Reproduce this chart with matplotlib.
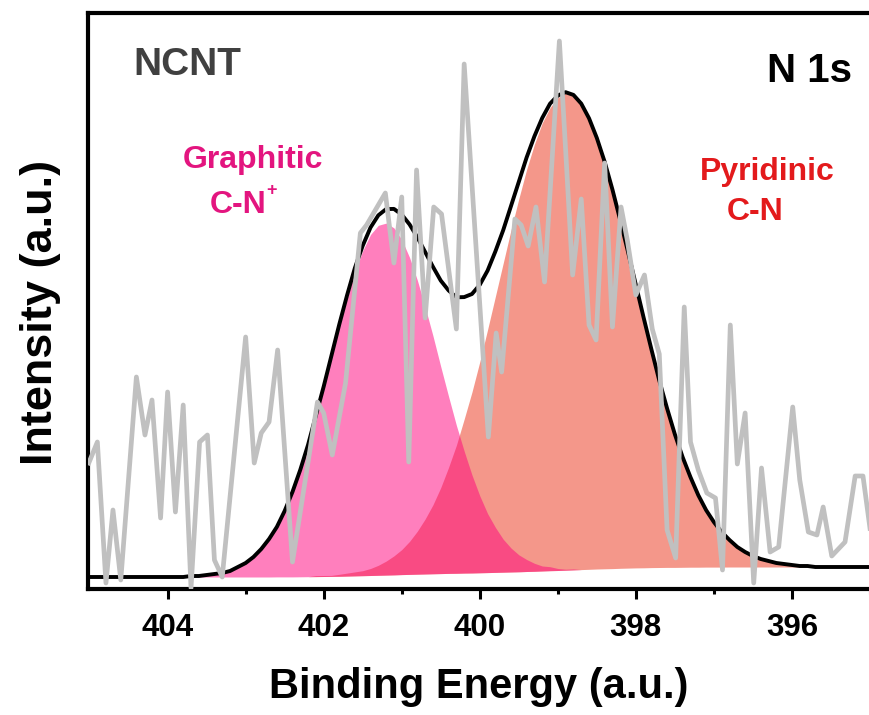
import numpy as np
import matplotlib
matplotlib.use("Agg")
from matplotlib import pyplot as plt

plt.rcParams['font.family'] = ['Liberation Sans', 'DejaVu Sans']
plt.rcParams['font.weight'] = 'bold'

# Raw N 1s spectrum (binding energy in eV, intensity in a.u.)
be_data = [405.01, 404.90, 404.79, 404.70, 404.60, 404.40, 404.29, 404.20, 404.09, 404.00,
           403.90, 403.80, 403.70, 403.59, 403.49, 403.40, 403.30, 403.00, 402.89, 402.80,
           402.70, 402.59, 402.40, 402.08, 402.00, 401.89, 401.72, 401.53, 401.45, 401.21,
           401.10, 401.00, 400.91, 400.81, 400.70, 400.59, 400.49, 400.30, 400.20, 399.89,
           399.79, 399.72, 399.55, 399.47, 399.38, 399.28, 399.17, 398.98, 398.90, 398.81,
           398.70, 398.60, 398.51, 398.40, 398.30, 398.19, 398.11, 398.00, 397.89, 397.79,
           397.70, 397.60, 397.49, 397.38, 397.30, 397.20, 397.09, 396.98, 396.89, 396.79,
           396.70, 396.60, 396.49, 396.39, 396.28, 396.17, 395.99, 395.90, 395.79, 395.68,
           395.60, 395.49, 395.32, 395.19, 395.09, 394.98]
int_data = [126, 147, 6, 79, 9, 212, 154, 189, 71, 197,
            77, 184, 1, 147, 154, 29, 12, 252, 126, 156,
            167, 239, 27, 187, 176, 134, 206, 356, 364, 396,
            326, 392, 127, 419, 271, 382, 375, 260, 525, 152,
            256, 217, 370, 364, 343, 382, 307, 548, 439, 314,
            390, 264, 249, 426, 262, 382, 349, 294, 314, 260,
            235, 59, 31, 282, 147, 119, 96, 91, 19, 264,
            125, 176, 6, 121, 37, 42, 182, 109, 57, 54,
            82, 33, 47, 113, 113, 49]

# Fit results on a 0.1 eV grid, 405.0 -> 395.0
be_fit = np.round(np.linspace(405.0, 395.0, 101), 1)
background = [12.0, 12.0, 12.0, 12.0, 12.0, 12.0, 12.0, 12.0, 12.0, 12.0,
              12.0, 12.0, 12.0, 12.0, 12.0, 12.0, 12.0, 12.0, 12.0, 12.0,
              12.0, 12.0, 12.0, 12.0, 12.1, 12.1, 12.1, 12.2, 12.3, 12.4,
              12.5, 12.6, 12.7, 12.9, 13.1, 13.3, 13.5, 13.7, 13.9, 14.1,
              14.4, 14.6, 14.8, 15.0, 15.2, 15.4, 15.6, 15.7, 15.9, 16.0,
              16.2, 16.4, 16.6, 16.8, 17.0, 17.2, 17.5, 17.7, 18.0, 18.3,
              18.5, 18.8, 19.1, 19.4, 19.7, 20.0, 20.2, 20.4, 20.7, 20.9,
              21.1, 21.2, 21.4, 21.5, 21.6, 21.6, 21.7, 21.8, 21.8, 21.9,
              21.9, 21.9, 22.0, 22.0, 22.0, 22.0, 22.0, 22.0, 22.0, 22.0,
              22.0, 22.0, 22.0, 22.0, 22.0, 22.0, 22.0, 22.0, 22.0, 22.0,
              22.0]
graphitic = [0, 0, 0, 0, 0, 0, 0, 0, 0, 0,
             0, 0, 0, 1, 1, 2, 3, 4, 6, 10,
             14, 20, 28, 38, 50, 66, 85, 107, 132, 160,
             189, 220, 250, 278, 304, 325, 341, 350, 352, 347,
             335, 317, 294, 267, 238, 207, 177, 148, 122, 98,
             77, 59, 45, 33, 24, 17, 12, 8, 5, 4,
             2, 1, 1, 0, 0, 0, 0, 0, 0, 0,
             0, 0, 0, 0, 0, 0, 0, 0, 0, 0,
             0, 0, 0, 0, 0, 0, 0, 0, 0, 0,
             0, 0, 0, 0, 0, 0, 0, 0, 0, 0,
             0]
pyridinic = [0, 0, 0, 0, 0, 0, 0, 0, 0, 0,
             0, 0, 0, 0, 0, 0, 0, 0, 0, 0,
             0, 0, 0, 0, 0, 0, 0, 0, 0, 1,
             1, 1, 2, 3, 4, 5, 7, 10, 14, 19,
             25, 33, 43, 55, 69, 86, 106, 128, 154, 181,
             211, 243, 276, 309, 342, 373, 402, 427, 448, 463,
             473, 477, 474, 466, 451, 431, 407, 379, 348, 316,
             283, 250, 218, 187, 159, 133, 110, 90, 72, 57,
             45, 35, 27, 20, 15, 11, 8, 6, 4, 3,
             2, 1, 1, 0, 0, 0, 0, 0, 0, 0,
             0]

xticks = [404, 402, 400, 398, 396]
xminor = [403, 401, 399, 397, 395]

bg = np.array(background)
g_top = bg + np.array(graphitic)
p_top = bg + np.array(pyridinic)
envelope = bg + np.array(graphitic) + np.array(pyridinic)

fig = plt.figure(figsize=(8.7, 7.15), dpi=100)
ax = fig.add_axes([88/870, 1 - 589/715, 1 - 88/870, 576/715])

# components
ax.fill_between(be_fit, bg, p_top, color='#F4978A', lw=0, zorder=1)
ax.fill_between(be_fit, bg, g_top, color='#FF007D', alpha=0.5, lw=0, zorder=2)
# fitted envelope and raw data
ax.plot(be_fit, envelope, color='black', lw=2.8, zorder=3)
ax.plot(be_data, int_data, color='#C0C0C0', lw=3.4, zorder=4)

ax.set_xlim(405.02, 395.05)
ax.set_ylim(0, 576)
ax.set_xticks(xticks)
ax.set_xticks(xminor, minor=True)
ax.set_xticklabels([str(t) for t in xticks])
ax.set_yticks([])
ax.tick_params(axis='x', which='major', length=7, width=2.2, direction='out',
               labelsize=22.5, pad=10)
ax.tick_params(axis='x', which='minor', length=3.6, width=2.2, direction='out')
for lab in ax.get_xticklabels():
    lab.set_fontweight('bold')

for side in ['left', 'top', 'bottom']:
    ax.spines[side].set_linewidth(3)
ax.spines['right'].set_visible(False)

ax.set_xlabel('Binding Energy (a.u.)', fontsize=30, fontweight='bold')
ax.xaxis.set_label_coords(0.5, -0.135)
fig.text(41/870, 1 - 312/715, 'Intensity (a.u.)', rotation=90, fontsize=32.5,
         fontweight='bold', ha='center', va='center')

# annotations
ax.text(0.0575, 0.892, 'NCNT', transform=ax.transAxes, fontsize=28,
        fontweight='bold', color='#404040', ha='left', va='baseline')
ax.text(0.977, 0.880, 'N 1s', transform=ax.transAxes, fontsize=29,
        fontweight='bold', color='black', ha='right', va='baseline')
ax.text(0.211, 0.731, 'Graphitic', transform=ax.transAxes, fontsize=23,
        fontweight='bold', color='#E3157F', ha='center', va='baseline')
ax.text(0.156, 0.653, 'C-N', transform=ax.transAxes, fontsize=23,
        fontweight='bold', color='#E3157F', ha='left', va='baseline')
ax.text(0.2275, 0.684, '+', transform=ax.transAxes, fontsize=13,
        fontweight='bold', color='#E3157F', ha='left', va='baseline')
ax.text(0.868, 0.710, 'Pyridinic', transform=ax.transAxes, fontsize=23,
        fontweight='bold', color='#E31A1C', ha='center', va='baseline')
ax.text(0.817, 0.641, 'C-N', transform=ax.transAxes, fontsize=23,
        fontweight='bold', color='#E31A1C', ha='left', va='baseline')

plt.savefig('out.png', dpi=100)
